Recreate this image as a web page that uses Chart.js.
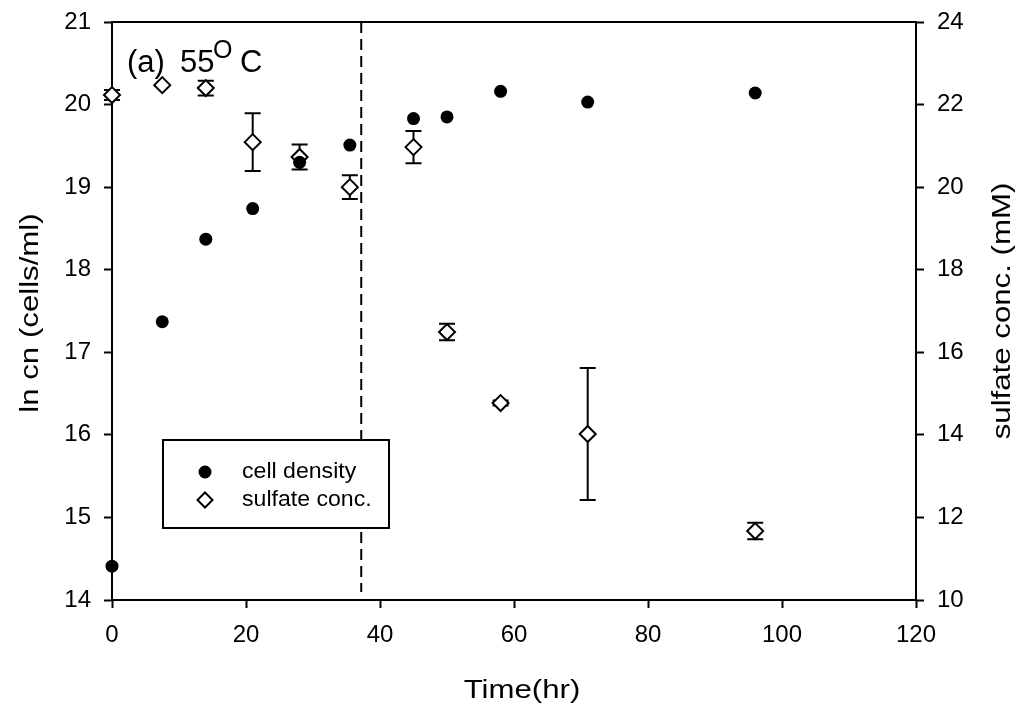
<!DOCTYPE html>
<html lang="en">
<head>
  <meta charset="UTF-8" />
  <title>Cell density and sulfate, 55 C</title>
  <script src="https://cdn.jsdelivr.net/npm/chart.js"></script>
  <style>
    html, body { margin: 0; padding: 0; background: #fff; }
    #wrap { width: 1028px; height: 713px; }
  </style>
</head>
<body>
  <div id="wrap"><canvas id="chart" width="1028" height="713"></canvas></div>

  <script>
    // values
    const hours = [0, 7.5, 14, 21, 28, 35.5, 45, 50, 58, 71, 96];
    const cellDensity = [14.41, 17.37, 18.37, 18.74, 19.30, 19.51, 19.83, 19.85, 20.16, 20.03, 20.14];
    const sulfateConc = [22.23, 22.47, 22.40, 21.09, 20.73, 20.00, 20.97, 16.49, 14.77, 14.02, 11.67];
    const sulfateErr = [0.12, 0, 0.18, 0.70, 0.30, 0.29, 0.39, 0.20, 0.06, 1.60, 0.20];
    const dividerHour = 37.2;

    const xTicks = [0, 20, 40, 60, 80, 100, 120];
    const leftTicks = [14, 15, 16, 17, 18, 19, 20, 21];
    const rightTicks = [10, 12, 14, 16, 18, 20, 22, 24];

    const legendLabels = ['cell density', 'sulfate conc.'];
    const FONT = '"Liberation Sans", Arial, sans-serif';

    const toPoints = (xs, ys) => xs.map((x, i) => ({ x, y: ys[i] }));

    // text drawn a little wider than the font, like the original figure
    function wideText(ctx, text, x, y, rot, stretch) {
      ctx.save();
      ctx.translate(x, y);
      ctx.rotate(rot);
      ctx.scale(stretch, 1);
      ctx.fillText(text, 0, 0);
      ctx.restore();
    }

    // error bars, divider, frame, titles, legend, annotation
    const extras = {
      id: 'extras',
      beforeDatasetsDraw(chart) {
        const { ctx, scales } = chart;
        ctx.save();
        ctx.strokeStyle = '#000';
        ctx.lineWidth = 2;
        hours.forEach((h, i) => {
          const e = sulfateErr[i];
          if (!e) return;
          const px = scales.x.getPixelForValue(h);
          const top = scales.y2.getPixelForValue(sulfateConc[i] + e);
          const bot = scales.y2.getPixelForValue(sulfateConc[i] - e);
          ctx.beginPath();
          ctx.moveTo(px, top); ctx.lineTo(px, bot);
          ctx.moveTo(px - 8, top); ctx.lineTo(px + 8, top);
          ctx.moveTo(px - 8, bot); ctx.lineTo(px + 8, bot);
          ctx.stroke();
        });
        ctx.restore();
      },
      afterDraw(chart) {
        const { ctx, chartArea: a, scales } = chart;
        ctx.save();
        ctx.strokeStyle = '#000';
        ctx.fillStyle = '#000';

        // top frame line
        ctx.lineWidth = 2;
        ctx.beginPath();
        ctx.moveTo(a.left - 1, a.top); ctx.lineTo(a.right + 1, a.top);
        ctx.stroke();

        // dashed divider
        const dx = scales.x.getPixelForValue(dividerHour);
        ctx.setLineDash([11, 6]);
        ctx.beginPath();
        ctx.moveTo(dx, a.top); ctx.lineTo(dx, a.bottom - 8);
        ctx.stroke();
        ctx.setLineDash([]);

        // axis titles
        ctx.font = '26px ' + FONT;
        ctx.textAlign = 'center';
        ctx.textBaseline = 'middle';
        wideText(ctx, 'Time(hr)', 522, 691, 0, 1.2);
        const midY = (a.top + a.bottom) / 2;
        wideText(ctx, 'ln cn (cells/ml)', 31, midY + 2, -Math.PI / 2, 1.2);
        wideText(ctx, 'sulfate conc. (mM)', 1003, midY, -Math.PI / 2, 1.2);

        // panel annotation
        ctx.textAlign = 'left';
        ctx.textBaseline = 'alphabetic';
        ctx.font = '31px ' + FONT;
        ctx.fillText('(a)', 127, 72);
        ctx.fillText('55', 180, 72);
        ctx.fillText('C', 240, 72);
        ctx.font = '25px ' + FONT;
        ctx.fillText('O', 213, 58);

        // legend box (white, covers the divider)
        ctx.lineWidth = 2;
        ctx.fillStyle = '#fff';
        ctx.fillRect(163, 440, 226, 88);
        ctx.strokeRect(163, 440, 226, 88);
        ctx.fillStyle = '#000';
        ctx.font = '22px ' + FONT;
        ctx.textBaseline = 'middle';
        ctx.beginPath();
        ctx.arc(205, 472, 6.5, 0, Math.PI * 2);
        ctx.fill();
        ctx.beginPath();
        ctx.moveTo(205, 492.5); ctx.lineTo(212.5, 500); ctx.lineTo(205, 507.5); ctx.lineTo(197.5, 500);
        ctx.closePath();
        ctx.fillStyle = '#fff';
        ctx.fill();
        ctx.stroke();
        ctx.fillStyle = '#000';
        ctx.textAlign = 'left';
        wideText(ctx, legendLabels[0], 242, 472, 0, 1.05);
        wideText(ctx, legendLabels[1], 242, 500, 0, 1.05);
        ctx.restore();
      }
    };

    const axisGrid = {
      drawOnChartArea: false,
      drawTicks: true,
      tickLength: 8,
      tickWidth: 2,
      tickColor: '#000'
    };
    const axisBorder = { display: true, color: '#000', width: 2 };
    const tickFont = { family: FONT, size: 24 };

    const fitWidth = w => s => { s.width = w; s.paddingTop = 0; s.paddingBottom = 0; };

    new Chart(document.getElementById('chart'), {
      type: 'scatter',
      data: {
        datasets: [
          {
            label: legendLabels[0],
            data: toPoints(hours, cellDensity),
            yAxisID: 'y',
            pointStyle: 'circle',
            pointRadius: 6.5,
            backgroundColor: '#000',
            borderColor: '#000',
            borderWidth: 0,
            clip: false
          },
          {
            label: legendLabels[1],
            data: toPoints(hours, sulfateConc),
            yAxisID: 'y2',
            pointStyle: 'rectRot',
            pointRadius: 8,
            backgroundColor: '#fff',
            borderColor: '#000',
            borderWidth: 2,
            clip: false
          }
        ]
      },
      options: {
        responsive: false,
        animation: false,
        layout: { padding: { top: 22, left: 0, right: 0, bottom: 0 }, autoPadding: false },
        plugins: { legend: { display: false }, tooltip: { enabled: false } },
        scales: {
          x: {
            type: 'linear', position: 'bottom', min: 0, max: 120,
            afterBuildTicks: s => { s.ticks = xTicks.map(v => ({ value: v })); },
            afterFit: s => { s.height = 113; s.paddingLeft = 0; s.paddingRight = 0; },
            ticks: { color: '#000', font: tickFont, padding: 13 },
            grid: axisGrid, border: axisBorder
          },
          y: {
            type: 'linear', position: 'left', min: 14, max: 21,
            afterBuildTicks: s => { s.ticks = leftTicks.map(v => ({ value: v })); },
            afterFit: fitWidth(112),
            ticks: { color: '#000', font: tickFont, padding: 13 },
            grid: axisGrid, border: axisBorder
          },
          y2: {
            type: 'linear', position: 'right', min: 10, max: 24,
            afterBuildTicks: s => { s.ticks = rightTicks.map(v => ({ value: v })); },
            afterFit: fitWidth(112),
            ticks: { color: '#000', font: tickFont, padding: 13 },
            grid: axisGrid, border: axisBorder
          }
        }
      },
      plugins: [extras]
    });
  </script>
</body>
</html>
